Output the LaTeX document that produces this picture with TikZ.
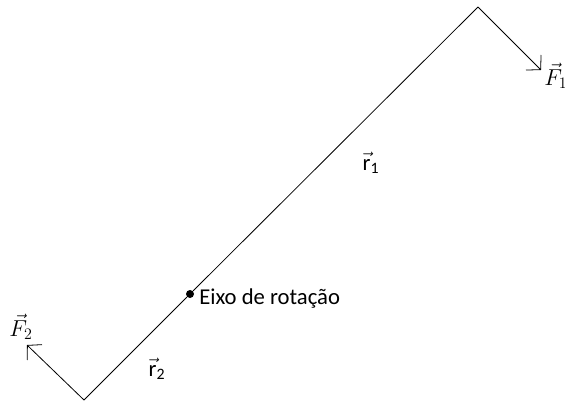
\documentclass[tikz,border=0pt]{standalone}
\usepackage{amsmath}
\usepackage{fontspec}
\setmainfont{Carlito}
\usepackage{tikz}
\usetikzlibrary{arrows.meta, positioning}

\begin{document}
\begin{tikzpicture}[
    x=0.75pt, y=-0.75pt,
    bar/.style={line width=0.6pt},
    force/.style={line width=0.6pt, -{Straight Barb[length=7.5pt, width=16pt, line width=0.6pt]}},
    pivot/.style={circle, fill, inner sep=0pt, minimum size=6pt},
    lbl/.style={inner sep=0pt, font=\fontsize{17}{19}\selectfont},
]
    \useasboundingbox (0,0) rectangle (565,403);

    \coordinate (top) at (478,7);
    \coordinate (bot) at (84,400);
    \coordinate (tipF1) at (541,70);
    \coordinate (tipF2) at (27,345);
    \node[pivot] (axis) at (190,294) {};

    \draw[bar] (bot) -- (axis) -- (top);
    \draw[force] (top) -- (tipF1);
    \draw[force] (bot) -- (tipF2);

    \node[lbl, anchor=west] (eixo) at (199,299) {Eixo de rota\c{c}\~ao};
    \node[lbl] (r1) at (371,163) {$\vec{\textrm{r}}_{\textrm{1}}$};
    \node[lbl] (r2) at (157,369) {$\vec{\textrm{r}}_{\textrm{2}}$};
    \node[lbl, anchor=west] (F1) at (544,76) {$\vec{F}_1$};
    \node[lbl] (F2) at (21,327) {$\vec{F}_2$};
\end{tikzpicture}
\end{document}
